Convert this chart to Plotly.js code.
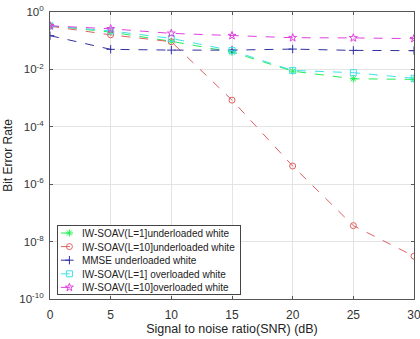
<!DOCTYPE html>
<html><head><meta charset="utf-8">
<script src="https://cdn.plot.ly/plotly-3.0.1.min.js"></script>
<style>html,body{margin:0;padding:0;background:#fff}#c{width:420px;height:339px}</style>
</head><body><div id="c"></div>
<script>
const snr = [0, 5, 10, 15, 20, 25, 30];
const l1Under = [0.33, 0.20, 0.095, 0.040, 0.0087, 0.0047, 0.0045];
const l10Under = [0.32, 0.16, 0.092, 8.5e-4, 4.3e-6, 3.6e-8, 3.1e-9];
const mmseUnder = [0.15, 0.050, 0.047, 0.047, 0.051, 0.046, 0.045];
const l1Over = [0.33, 0.22, 0.12, 0.045, 0.0092, 0.0077, 0.0049];
const l10Over = [0.33, 0.26, 0.18, 0.15, 0.127, 0.125, 0.118];
const names = ['IW-SOAV(L=1]underloaded white', 'IW-SOAV(L=10]underloaded white', 'MMSE underloaded white', 'IW-SOAV(L=1] overloaded white', 'IW-SOAV(L=10]overloaded white'];
const yTickVals = [1e-10, 1e-8, 1e-6, 1e-4, 1e-2, 1];
const yTickText = ['10<sup>-10</sup>', '10<sup>-8</sup>', '10<sup>-6</sup>', '10<sup>-4</sup>', '10<sup>-2</sup>', '10<sup>0</sup>'];
const xTickVals = [0, 5, 10, 15, 20, 25, 30];

function tr(y, name, color, symbol) {
  return {x: snr, y: y, name: name, type: 'scatter', mode: 'lines+markers',
    line: {color: color, width: 1, dash: 'dash'},
    marker: {symbol: symbol, size: 6, color: color, line: {color: color, width: 1}}};
}
const data = [
  tr(l1Under, names[0], '#22ee55', 'asterisk-open'),
  tr(l10Under, names[1], '#e06060', 'circle-open'),
  tr(mmseUnder, names[2], '#3030a0', 'cross-thin-open'),
  tr(l1Over, names[3], '#40e0e8', 'square-open'),
  tr(l10Over, names[4], '#e040e0', 'star-open')
];
const layout = {
  width: 420, height: 339,
  margin: {l: 50, r: 6, t: 12, b: 40},
  paper_bgcolor: '#fff', plot_bgcolor: '#fff',
  font: {family: 'Liberation Sans, Arial, sans-serif', size: 11, color: '#333'},
  showlegend: true,
  xaxis: {range: [0, 30], tickvals: xTickVals, ticks: 'inside', ticklen: 3, tickcolor: '#555',
    showgrid: true, gridcolor: '#e4e4e4', zeroline: false, showline: true, linecolor: '#555',
    linewidth: 1, mirror: 'ticks', tickfont: {size: 12, color: '#333'},
    ticklabeloverflow: 'allow', ticklabelstandoff: 5,
    title: {text: 'Signal to noise ratio(SNR) (dB)', font: {size: 12.5, color: '#222'}, standoff: 2}},
  yaxis: {type: 'log', range: [-10, 0], tickvals: yTickVals, ticktext: yTickText, ticks: 'inside',
    ticklen: 3, tickcolor: '#555', showgrid: true, gridcolor: '#e4e4e4', zeroline: false,
    showline: true, linecolor: '#555', linewidth: 1, mirror: 'ticks',
    tickfont: {size: 11.5, color: '#333'}, ticklabelstandoff: 3,
    title: {text: 'Bit Error Rate', font: {size: 12, color: '#222'}, standoff: 4}},
  legend: {x: 0.019, y: (299 - 225) / 287, xanchor: 'left', yanchor: 'top', bgcolor: '#fff',
    bordercolor: '#444', borderwidth: 1, font: {size: 10, color: '#222'}, tracegroupgap: 0}
};
Plotly.newPlot('c', data, layout, {displayModeBar: false, staticPlot: true}).then(function (gd) {
  // compact MATLAB-like legend layout
  const leg = gd.querySelector('g.legend');
  if (!leg) return;
  const items = leg.querySelectorAll('g.traces');
  let maxW = 0;
  items.forEach(function (g, i) {
    g.setAttribute('transform', 'translate(1,' + (8 + i * 13.6) + ')');
    g.querySelectorAll('g.legendlines path').forEach(function (p) { p.setAttribute('d', 'M3,0h17'); });
    g.querySelectorAll('g.legendpoints path').forEach(function (p) { p.setAttribute('transform', 'translate(11.5,0)'); });
    const t = g.querySelector('text.legendtext');
    if (t) { t.setAttribute('x', 24); maxW = Math.max(maxW, t.getComputedTextLength()); }
    const r = g.querySelector('rect.legendtoggle');
    if (r) r.setAttribute('width', 24 + maxW);
  });
  const w = 24 + maxW + 6, h = 8 + 4 * 13.6 + 7;
  const bg = leg.querySelector('rect.bg');
  if (bg) { bg.setAttribute('width', w); bg.setAttribute('height', h); }
  leg.querySelectorAll('clipPath rect, defs rect').forEach(function (r) { r.setAttribute('width', w); r.setAttribute('height', h); });
});
</script></body></html>
